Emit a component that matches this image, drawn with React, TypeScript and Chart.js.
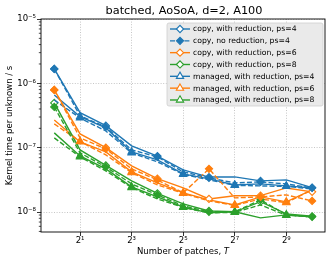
import React, { useEffect, useRef } from "react";
import { Chart, registerables } from "chart.js";
Chart.register(...registerables);

const FONT = "'DejaVu Sans', sans-serif";
const BLUE = "#1f77b4";
const ORANGE = "#ff7f0e";
const GREEN = "#2ca02c";

// Number of patches T
const patches = [1, 2, 4, 8, 16, 32, 64, 128, 256, 512, 1024];
const xTickValues = [2, 8, 32, 128, 512];
const xTickLabels = ["2¹", "2³", "2⁵", "2⁷", "2⁹"];
const yTickValues = [1e-8, 1e-7, 1e-6, 1e-5];
const yTickLabels = ["10⁻⁸", "10⁻⁷", "10⁻⁶", "10⁻⁵"];

// ps = 4
const copyRed4 = [1.675e-6, 3.5e-7, 2.2e-7, 1.07e-7, 7.4e-8, 4.52e-8, 3.5e-8, 3.52e-8, 3.05e-8, 3.16e-8, 2.4e-8];
const copyNoRed4 = [1.675e-6, 3.12e-7, 2.1e-7, 9.25e-8, 7.2e-8, 4.21e-8, 3.4e-8, 2.84e-8, 2.94e-8, 2.74e-8, 2.37e-8];
const managedRed4 = [6.61e-7, 3.05e-7, 2.03e-7, 8.61e-8, 6.47e-8, 3.92e-8, 3.28e-8, 2.64e-8, 2.74e-8, 2.55e-8, 2.37e-8];
const managedNoRed4 = [5.52e-7, 2.9e-7, 1.82e-7, 8.3e-8, 6.03e-8, 3.85e-8, 3.16e-8, 2.6e-8, 2.55e-8, 2.5e-8, 2.29e-8];
// ps = 6
const copyRed6 = [7.9e-7, 1.64e-7, 1.0e-7, 5.22e-8, 3.3e-8, 2.37e-8, 1.6e-8, 1.79e-8, 1.8e-8, 2.37e-8, 2.06e-8];
const copyNoRed6 = [7.9e-7, 1.42e-7, 9.58e-8, 4.69e-8, 3.16e-8, 1.99e-8, 4.69e-8, 1.66e-8, 1.72e-8, 1.85e-8, 1.49e-8];
const managedRed6 = [2.7e-7, 1.23e-7, 8.61e-8, 4.21e-8, 2.84e-8, 1.99e-8, 1.55e-8, 1.29e-8, 1.72e-8, 1.44e-8, 2.21e-8];
const managedNoRed6 = [2.34e-7, 1.25e-7, 7.73e-8, 4.1e-8, 2.64e-8, 1.95e-8, 1.49e-8, 1.27e-8, 1.6e-8, 1.4e-8, 2.21e-8];
// ps = 8
const copyRed8 = [4.96e-7, 9.25e-8, 5.3e-8, 3.05e-8, 1.95e-8, 1.34e-8, 1.04e-8, 1.01e-8, 1.45e-8, 9.38e-9, 8.6e-9];
const copyNoRed8 = [4.3e-7, 8.3e-8, 5.03e-8, 2.74e-8, 1.85e-8, 1.25e-8, 1.01e-8, 1.01e-8, 1.55e-8, 9.05e-9, 8.42e-9];
const managedRed8 = [1.7e-7, 7.46e-8, 4.69e-8, 2.46e-8, 1.72e-8, 1.2e-8, 9.72e-9, 1.01e-8, 8.12e-9, 9.05e-9, 8.42e-9];
const managedNoRed8 = [1.42e-7, 7.2e-8, 4.36e-8, 2.4e-8, 1.6e-8, 1.18e-8, 9.72e-9, 9.9e-9, 1.29e-8, 8.9e-9, 8.42e-9];

type Kind = "copyRed" | "copyNo" | "manRed" | "manNo";

function makeDs(label: string, values: number[], color: string, kind: Kind, inLegend: boolean) {
  const diamond = kind === "copyRed" || kind === "copyNo";
  const hollow = kind === "copyRed" || kind === "manRed";
  const dashed = kind === "copyNo" || kind === "manNo";
  const radius = patches.map((_, i) => ((diamond ? i % 2 === 0 : i % 2 === 1) ? (diamond ? 3.6 : 4.2) : 0));
  return {
    label,
    data: patches.map((x, i) => ({ x, y: values[i] })),
    borderColor: color,
    backgroundColor: color,
    borderWidth: 1.4,
    borderDash: dashed ? [5, 2.2] : [],
    pointStyle: diamond ? "rectRot" : "triangle",
    pointRadius: radius,
    pointHoverRadius: 0,
    pointBackgroundColor: hollow ? "#ffffff" : color,
    pointBorderColor: color,
    pointBorderWidth: 1.1,
    tension: 0,
    fill: false,
    order: hollow ? 1 : 0,
    inLegend,
    kind,
  };
}

function drawMarker(ctx: CanvasRenderingContext2D, x: number, y: number, diamond: boolean, hollow: boolean, color: string) {
  ctx.save();
  ctx.setLineDash([]);
  ctx.beginPath();
  if (diamond) {
    const r = 3.6;
    ctx.moveTo(x - r, y);
    ctx.lineTo(x, y - r);
    ctx.lineTo(x + r, y);
    ctx.lineTo(x, y + r);
  } else {
    const r = 4.2;
    ctx.moveTo(x, y - r);
    ctx.lineTo(x + r * Math.sin((2 * Math.PI) / 3), y - r * Math.cos((2 * Math.PI) / 3));
    ctx.lineTo(x - r * Math.sin((2 * Math.PI) / 3), y - r * Math.cos((2 * Math.PI) / 3));
  }
  ctx.closePath();
  ctx.fillStyle = hollow ? "#ffffff" : color;
  ctx.fill();
  ctx.lineWidth = 1.1;
  ctx.strokeStyle = color;
  ctx.stroke();
  ctx.restore();
}

const decorPlugin = {
  id: "decor",
  afterDatasetsDraw(chart: any) {
    const { ctx, chartArea } = chart;
    const { left, right, top, bottom } = chartArea;
    ctx.save();
    // frame
    ctx.strokeStyle = "#000";
    ctx.lineWidth = 0.9;
    ctx.setLineDash([]);
    ctx.strokeRect(left, top, right - left, bottom - top);
    // minor y ticks
    const ys = chart.scales.y;
    ctx.lineWidth = 0.7;
    for (let n = -9; n <= -6; n++) {
      for (let k = 2; k <= 9; k++) {
        const v = k * Math.pow(10, n);
        if (v < ys.min || v > ys.max) continue;
        const py = ys.getPixelForValue(v);
        ctx.beginPath();
        ctx.moveTo(left, py);
        ctx.lineTo(left - 2.2, py);
        ctx.stroke();
      }
    }
    // title
    ctx.fillStyle = "#000";
    ctx.textAlign = "center";
    ctx.textBaseline = "middle";
    ctx.font = `11.3px ${FONT}`;
    ctx.fillText("batched, AoSoA, d=2, A100", (left + right) / 2 + 1, 11);
    // x title
    ctx.font = `8.5px ${FONT}`;
    const main = "Number of patches, ";
    const wMain = ctx.measureText(main).width;
    ctx.font = `italic 8.5px ${FONT}`;
    const wT = ctx.measureText("T").width;
    const x0 = (left + right) / 2 - (wMain + wT) / 2;
    ctx.textAlign = "left";
    ctx.font = `8.5px ${FONT}`;
    ctx.fillText(main, x0, 252);
    ctx.font = `italic 8.5px ${FONT}`;
    ctx.fillText("T", x0 + wMain, 252);
    // y title
    ctx.save();
    ctx.translate(10, (top + bottom) / 2);
    ctx.rotate(-Math.PI / 2);
    ctx.textAlign = "center";
    ctx.font = `8.5px ${FONT}`;
    ctx.fillText("Kernel time per unknown / s", 0, 0);
    ctx.restore();

    // legend
    const items = chart.data.datasets.filter((d: any) => d.inLegend);
    const bx = 167, by = 23, bw = 156, bh = 83;
    ctx.beginPath();
    ctx.roundRect(bx, by, bw, bh, 2);
    ctx.fillStyle = "rgba(233,233,233,0.95)";
    ctx.fill();
    ctx.strokeStyle = "#cfcfcf";
    ctx.lineWidth = 0.8;
    ctx.stroke();
    items.forEach((d: any, i: number) => {
      const yy = 29 + i * 11.83;
      const diamond = d.kind === "copyRed" || d.kind === "copyNo";
      const hollow = d.kind === "copyRed" || d.kind === "manRed";
      ctx.save();
      ctx.strokeStyle = d.borderColor;
      ctx.lineWidth = 1.4;
      ctx.setLineDash(d.borderDash);
      ctx.beginPath();
      ctx.moveTo(170, yy);
      ctx.lineTo(190, yy);
      ctx.stroke();
      ctx.restore();
      drawMarker(ctx, 180, yy, diamond, hollow, d.borderColor);
      ctx.fillStyle = "#000";
      ctx.textAlign = "left";
      ctx.textBaseline = "middle";
      ctx.font = `7.7px ${FONT}`;
      ctx.fillText(d.label, 193, yy + 0.5);
    });
    ctx.restore();
  },
};

export default function App() {
  const ref = useRef<HTMLCanvasElement | null>(null);
  useEffect(() => {
    document.body.style.margin = "0";
    const canvas = ref.current;
    if (!canvas) return;
    const datasets = [
      makeDs("copy, with reduction, ps=4", copyRed4, BLUE, "copyRed", true),
      makeDs("copy, no reduction, ps=4", copyNoRed4, BLUE, "copyNo", true),
      makeDs("copy, with reduction, ps=6", copyRed6, ORANGE, "copyRed", true),
      makeDs("copy, with reduction, ps=8", copyRed8, GREEN, "copyRed", true),
      makeDs("managed, with reduction, ps=4", managedRed4, BLUE, "manRed", true),
      makeDs("managed, with reduction, ps=6", managedRed6, ORANGE, "manRed", true),
      makeDs("managed, with reduction, ps=8", managedRed8, GREEN, "manRed", true),
      makeDs("copy, no reduction, ps=6", copyNoRed6, ORANGE, "copyNo", false),
      makeDs("copy, no reduction, ps=8", copyNoRed8, GREEN, "copyNo", false),
      makeDs("managed, no reduction, ps=4", managedNoRed4, BLUE, "manNo", false),
      makeDs("managed, no reduction, ps=6", managedNoRed6, ORANGE, "manNo", false),
      makeDs("managed, no reduction, ps=8", managedNoRed8, GREEN, "manNo", false),
    ];
    const gridColor = "rgba(170,170,170,0.85)";
    const chart = new Chart(canvas, {
      type: "line",
      data: { datasets: datasets as any },
      options: {
        responsive: false,
        animation: false,
        devicePixelRatio: 1,
        layout: { padding: { left: 0, top: 19, right: 7, bottom: 0 } },
        plugins: { legend: { display: false }, tooltip: { enabled: false }, title: { display: false } },
        scales: {
          x: {
            type: "logarithmic",
            min: Math.pow(2, -0.5),
            max: Math.pow(2, 10.5),
            afterBuildTicks: (s: any) => {
              s.ticks = xTickValues.map((v) => ({ value: v }));
            },
            afterFit: (s: any) => {
              s.height = 31;
              s.paddingLeft = 0;
              s.paddingRight = 0;
            },
            ticks: {
              callback: (v: any) => {
                const i = xTickValues.indexOf(Number(v));
                return i >= 0 ? xTickLabels[i] : "";
              },
              font: { family: FONT, size: 8.5 },
              color: "#000",
              padding: 0,
              maxRotation: 0,
              autoSkip: false,
            },
            grid: { color: gridColor, lineWidth: 0.8, tickLength: 4, tickColor: "#000", tickWidth: 0.8 },
            border: { display: false, dash: [1, 1.6] },
          },
          y: {
            type: "logarithmic",
            min: 4.9e-9,
            max: 1e-5,
            afterBuildTicks: (s: any) => {
              s.ticks = yTickValues.map((v) => ({ value: v }));
            },
            afterFit: (s: any) => {
              s.width = 41;
              s.paddingTop = 0;
              s.paddingBottom = 0;
            },
            ticks: {
              callback: (v: any) => {
                const i = yTickValues.findIndex((t) => Math.abs(t - Number(v)) / t < 1e-6);
                return i >= 0 ? yTickLabels[i] : "";
              },
              font: { family: FONT, size: 8.5 },
              color: "#000",
              padding: 1,
              autoSkip: false,
            },
            grid: { color: gridColor, lineWidth: 0.8, tickLength: 4, tickColor: "#000", tickWidth: 0.8 },
            border: { display: false, dash: [1, 1.6] },
          },
        },
      },
      plugins: [decorPlugin],
    } as any);
    return () => chart.destroy();
  }, []);
  return (
    <div style={{ width: 332, height: 263 }}>
      <canvas ref={ref} width={332} height={263} style={{ display: "block" }} />
    </div>
  );
}
